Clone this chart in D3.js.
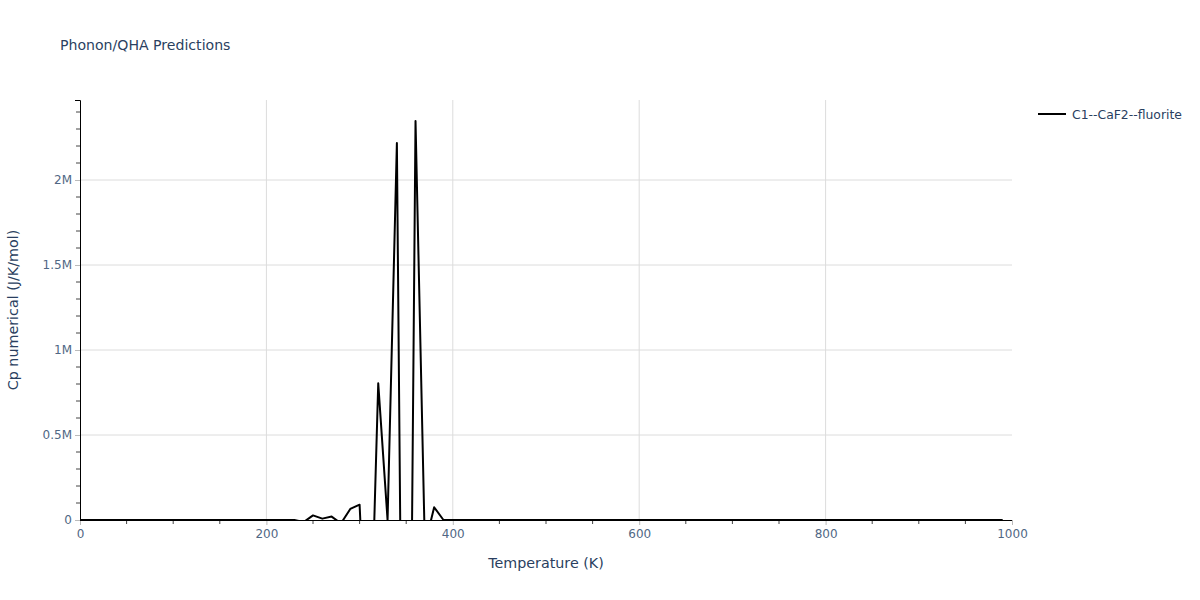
<!DOCTYPE html>
<html>
<head>
<meta charset="utf-8">
<script src="https://cdn.jsdelivr.net/npm/d3@7"></script>
<style>
  body { margin: 0; background: #fff; }
  svg { font-family: "DejaVu Sans", verdana, arial, sans-serif; }
</style>
</head>
<body>
<svg id="chart" width="1200" height="600"></svg>
<script>
// ---- data ----
const temperatures = d3.range(0, 1000, 10); // 0..990 K in 10 K steps
// Cp values (J/K/mol); nonzero values between 240 K and 380 K, zero elsewhere
const cpNonZero = {
  240: -12000,
  250: 27000,
  260: 8000,
  270: 20000,
  280: -20000,
  290: 65000,
  300: 90000,
  310: -1100000,
  320: 804000,
  330: 0,
  340: 2218000,
  350: -4000000,
  360: 2347000,
  370: -150000,
  380: 75000,
  390: 0
};
const cpValues = temperatures.map(t => (cpNonZero[t] !== undefined ? cpNonZero[t] : 0));
const seriesName = "C1--CaF2--fluorite";
const xTickValues = [0, 200, 400, 600, 800, 1000];
const yTickValues = [0, 500000, 1000000, 1500000, 2000000];
const yTickLabels = ["0", "0.5M", "1M", "1.5M", "2M"];

// ---- layout ----
const svg = d3.select("#chart");
const m = { left: 80, right: 1012, top: 100, bottom: 520 };
const textColor = "#2a3f5f";
const tickColor = "#506784";
const gridColor = "#dcdcdc";
const font = "'DejaVu Sans', verdana, arial, sans-serif";

const x = d3.scaleLinear().domain([0, 1000]).range([m.left, m.right]);
const y = d3.scaleLinear().domain([0, 2470600]).range([m.bottom, m.top]);

// grid
svg.append("g").selectAll("line").data(xTickValues.filter(v => v > 0 && v < 1000)).join("line")
  .attr("x1", d => x(d)).attr("x2", d => x(d))
  .attr("y1", m.top).attr("y2", m.bottom)
  .attr("stroke", gridColor).attr("stroke-width", 1);
svg.append("g").selectAll("line").data(yTickValues.filter(v => v > 0)).join("line")
  .attr("x1", m.left).attr("x2", m.right)
  .attr("y1", d => y(d)).attr("y2", d => y(d))
  .attr("stroke", gridColor).attr("stroke-width", 1);

// minor ticks
const xMinor = d3.range(50, 1000, 50).filter(v => v % 200 !== 0);
svg.append("g").selectAll("line").data(xMinor).join("line")
  .attr("x1", d => x(d)).attr("x2", d => x(d))
  .attr("y1", m.bottom).attr("y2", m.bottom + 4)
  .attr("stroke", "#444").attr("stroke-width", 1);
const yMinor = d3.range(100000, 2470000, 100000).filter(v => v % 500000 !== 0);
svg.append("g").selectAll("line").data(yMinor).join("line")
  .attr("x1", m.left - 4).attr("x2", m.left)
  .attr("y1", d => y(d)).attr("y2", d => y(d))
  .attr("stroke", "#444").attr("stroke-width", 1);

// axes (major ticks)
const xAxis = d3.axisBottom(x).tickValues(xTickValues).tickSize(5).tickPadding(4)
  .tickFormat(d3.format("d"));
const gx = svg.append("g").attr("transform", `translate(0,${m.bottom})`).call(xAxis);
gx.select(".domain").attr("stroke", "#000").attr("stroke-width", 1);
gx.selectAll(".tick line").attr("stroke", "#bbb");
gx.selectAll(".tick text").attr("fill", tickColor).attr("font-size", 12)
  .attr("font-family", font);

const yAxis = d3.axisLeft(y).tickValues(yTickValues).tickSize(5).tickPadding(3)
  .tickFormat((d, i) => yTickLabels[i]);
const gy = svg.append("g").attr("transform", `translate(${m.left},0)`).call(yAxis);
gy.select(".domain").attr("stroke", "#000").attr("stroke-width", 1);
gy.selectAll(".tick line").attr("stroke", "#bbb");
gy.selectAll(".tick text").attr("fill", tickColor).attr("font-size", 12)
  .attr("font-family", font);

// clip
svg.append("clipPath").attr("id", "plotclip").append("rect")
  .attr("x", m.left).attr("y", m.top)
  .attr("width", m.right - m.left).attr("height", m.bottom - m.top + 1);

// data line
const line = d3.line().x((d, i) => x(temperatures[i])).y(d => y(d));
svg.append("path").datum(cpValues)
  .attr("clip-path", "url(#plotclip)")
  .attr("d", line)
  .attr("fill", "none").attr("stroke", "#000").attr("stroke-width", 2)
  .attr("stroke-linejoin", "round");

// title
svg.append("text").attr("x", 60).attr("y", 50)
  .attr("fill", textColor).attr("font-size", 14.1).text("Phonon/QHA Predictions");

// axis titles
svg.append("text").attr("x", (m.left + m.right) / 2).attr("y", 568)
  .attr("text-anchor", "middle").attr("fill", textColor).attr("font-size", 14.3)
  .text("Temperature (K)");
svg.append("text").attr("transform", `translate(18,${(m.top + m.bottom) / 2}) rotate(-90)`)
  .attr("text-anchor", "middle").attr("fill", textColor).attr("font-size", 14.3)
  .text("Cp numerical (J/K/mol)");

// legend
svg.append("line").attr("x1", 1038).attr("x2", 1066).attr("y1", 114).attr("y2", 114)
  .attr("stroke", "#000").attr("stroke-width", 2);
svg.append("text").attr("x", 1072).attr("y", 118.5)
  .attr("fill", textColor).attr("font-size", 12.4).text(seriesName);
</script>
</body>
</html>
